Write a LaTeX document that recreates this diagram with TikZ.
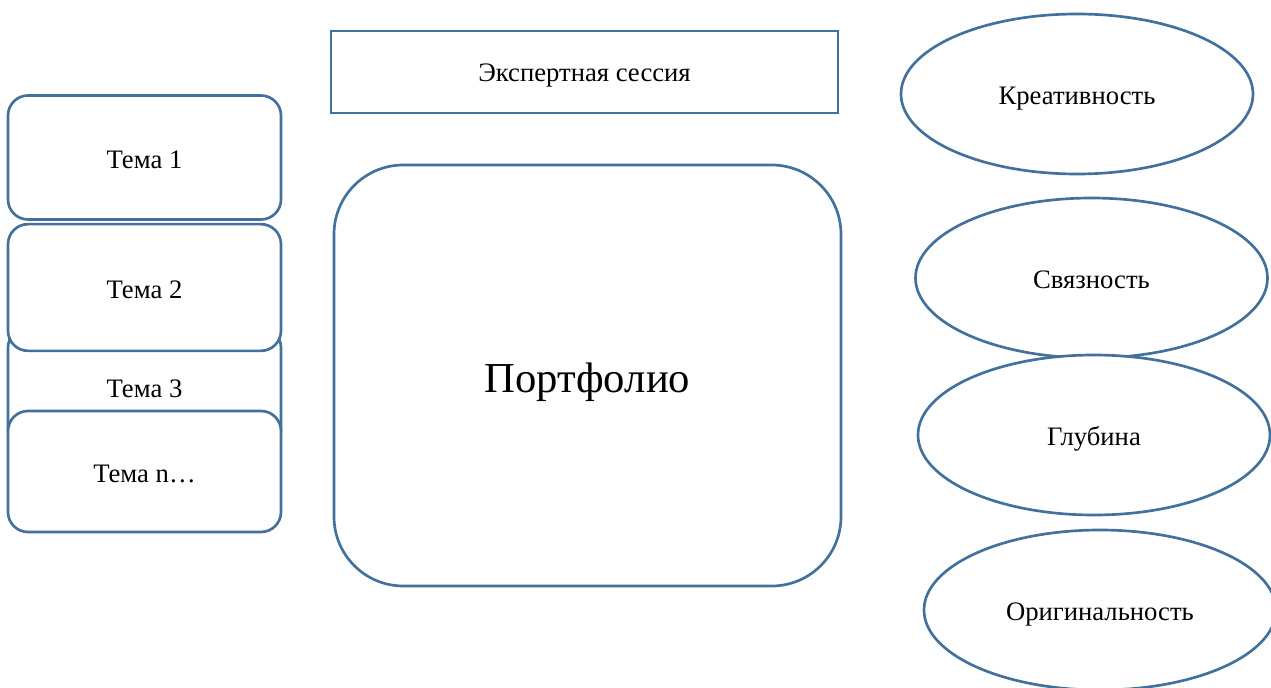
\documentclass[tikz,border=0pt]{standalone}
\usepackage{fontspec}
\setmainfont{Liberation Serif}
\usetikzlibrary{shapes.geometric}
\definecolor{edge}{HTML}{41719C}
\tikzset{
  box/.style={draw=edge, line width=2pt, fill=white, inner sep=0pt, font=\fontsize{20}{24}\selectfont},
  tema/.style={box, rounded corners=15pt, minimum width=204.75pt, minimum height=93pt, text height=18pt, text depth=1.6pt},
  oval/.style={box, ellipse, minimum width=264pt, minimum height=120pt, text height=18.2pt, text depth=2pt},
}
\begin{document}
\begin{tikzpicture}[x=0.75pt,y=-0.75pt]
\useasboundingbox (0,0) rectangle (1271,688);
\clip (0,0) rectangle (1271,688);
\node[tema] (t1) at (144.5,157.5) {Тема 1};
\node[tema, minimum height=92pt] (t3) at (144.5,389) {};
\node at (t3) [font=\fontsize{20}{24}\selectfont] (t3l) {Тема 3};
\node[tema, minimum height=95pt] (t2) at (144.5,287.5) {Тема 2};
\node[tema, minimum height=90.75pt] (tn) at (144.5,471.5) {Тема n…};
\node[box, minimum width=380.25pt, minimum height=61.5pt, text height=18pt, text depth=3pt] (es) at (584.5,72) {Экспертная сессия};
\node[box, rounded corners=52pt, minimum width=380.25pt, minimum height=315.75pt, font=\fontsize{32}{38}\selectfont, text height=30pt, text depth=4pt] (pf) at (587.5,375.5) {Портфолио};
\node[oval] (kr) at (1077,94) {Креативность};
\node[oval] (sv) at (1091.5,278) {Связность};
\node[oval] (gl) at (1094,435) {Глубина};
\node[oval] (or) at (1100,610) {Оригинальность};
\end{tikzpicture}
\end{document}
